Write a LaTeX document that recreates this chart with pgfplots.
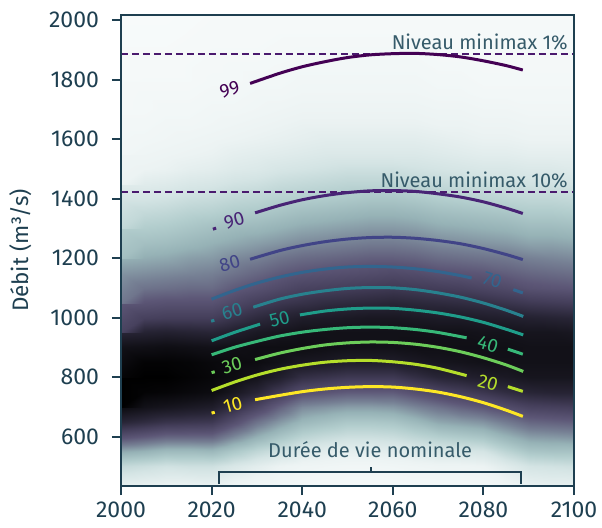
\documentclass[border=0pt]{standalone}
\usepackage{fontspec}
\setmainfont{Fira Sans}
\usepackage{pgfplots}
\usepackage{pgfplotstable}
\pgfplotsset{compat=1.18}

\definecolor{axiscol}{HTML}{1E3F50}
\definecolor{notecol}{HTML}{365B6A}
\definecolor{dashcol}{HTML}{4A1A6E}
\definecolor{c99}{HTML}{440154}
\definecolor{c90}{HTML}{482475}
\definecolor{c80}{HTML}{414487}
\definecolor{c70}{HTML}{32658E}
\definecolor{c60}{HTML}{28818E}
\definecolor{c50}{HTML}{1F9D8A}
\definecolor{c40}{HTML}{37B878}
\definecolor{c30}{HTML}{6CCD5A}
\definecolor{c20}{HTML}{B5DE2B}
\definecolor{c10}{HTML}{FDE725}

% flow density (0 = none, 1 = highest); one line per flow level 434 (axis bottom), 500, 550, ..., 1950, 2017 (axis top),
% 21 values per line for the years 2000, 2005, ..., 2100
\pgfplotstableread[row sep=\\]{
d \\
.12\\ .11\\ .10\\ .10\\ .11\\ .08\\ .06\\ .05\\ .04\\ .03\\ .03\\ .03\\ .03\\ .04\\ .04\\ .04\\ .05\\ .08\\ .11\\ .12\\ .12\\
.25\\ .23\\ .21\\ .22\\ .22\\ .18\\ .14\\ .10\\ .08\\ .07\\ .06\\ .06\\ .07\\ .08\\ .09\\ .09\\ .10\\ .15\\ .20\\ .21\\ .22\\
.42\\ .40\\ .37\\ .37\\ .38\\ .32\\ .26\\ .21\\ .16\\ .14\\ .13\\ .13\\ .14\\ .16\\ .18\\ .19\\ .20\\ .27\\ .33\\ .34\\ .34\\
.62\\ .59\\ .56\\ .56\\ .56\\ .48\\ .40\\ .33\\ .27\\ .24\\ .22\\ .22\\ .23\\ .26\\ .29\\ .31\\ .33\\ .39\\ .44\\ .45\\ .46\\
.80\\ .77\\ .74\\ .73\\ .72\\ .63\\ .53\\ .45\\ .38\\ .35\\ .32\\ .32\\ .33\\ .37\\ .42\\ .44\\ .46\\ .51\\ .56\\ .57\\ .58\\
.93\\ .90\\ .88\\ .86\\ .84\\ .76\\ .67\\ .57\\ .48\\ .46\\ .44\\ .44\\ .45\\ .49\\ .53\\ .57\\ .60\\ .64\\ .68\\ .69\\ .70\\
1.0\\ .98\\ .97\\ .95\\ .93\\ .87\\ .80\\ .71\\ .63\\ .61\\ .59\\ .59\\ .59\\ .63\\ .67\\ .70\\ .73\\ .77\\ .80\\ .81\\ .81\\
1.0\\ 1.0\\ 1.0\\ .98\\ .96\\ .93\\ .89\\ .83\\ .76\\ .74\\ .72\\ .72\\ .72\\ .76\\ .80\\ .82\\ .84\\ .86\\ .88\\ .88\\ .88\\
.97\\ .98\\ .98\\ .97\\ .95\\ .94\\ .93\\ .90\\ .87\\ .86\\ .84\\ .84\\ .84\\ .86\\ .88\\ .89\\ .90\\ .90\\ .90\\ .90\\ .90\\
.90\\ .91\\ .92\\ .91\\ .90\\ .91\\ .92\\ .92\\ .92\\ .91\\ .90\\ .90\\ .90\\ .91\\ .91\\ .91\\ .91\\ .91\\ .90\\ .90\\ .90\\
.80\\ .81\\ .82\\ .81\\ .80\\ .83\\ .86\\ .88\\ .90\\ .90\\ .90\\ .90\\ .90\\ .90\\ .90\\ .90\\ .89\\ .89\\ .88\\ .88\\ .87\\
.68\\ .69\\ .70\\ .70\\ .70\\ .74\\ .78\\ .81\\ .84\\ .85\\ .86\\ .87\\ .87\\ .86\\ .85\\ .85\\ .84\\ .83\\ .82\\ .81\\ .80\\
.60\\ .61\\ .62\\ .62\\ .62\\ .66\\ .70\\ .73\\ .75\\ .77\\ .78\\ .79\\ .80\\ .79\\ .78\\ .77\\ .76\\ .74\\ .72\\ .71\\ .70\\
.52\\ .53\\ .54\\ .55\\ .55\\ .59\\ .62\\ .65\\ .68\\ .69\\ .70\\ .71\\ .72\\ .71\\ .70\\ .69\\ .67\\ .65\\ .62\\ .61\\ .60\\
.46\\ .47\\ .48\\ .49\\ .50\\ .53\\ .56\\ .59\\ .61\\ .62\\ .63\\ .64\\ .65\\ .64\\ .62\\ .61\\ .60\\ .58\\ .56\\ .55\\ .54\\
.40\\ .41\\ .42\\ .44\\ .45\\ .48\\ .50\\ .53\\ .55\\ .56\\ .57\\ .58\\ .58\\ .57\\ .55\\ .54\\ .53\\ .52\\ .50\\ .49\\ .48\\
.35\\ .35\\ .36\\ .38\\ .40\\ .42\\ .44\\ .46\\ .48\\ .49\\ .50\\ .51\\ .51\\ .50\\ .48\\ .47\\ .46\\ .45\\ .43\\ .43\\ .42\\
.30\\ .30\\ .31\\ .33\\ .35\\ .37\\ .38\\ .40\\ .42\\ .43\\ .44\\ .45\\ .45\\ .44\\ .42\\ .41\\ .40\\ .39\\ .37\\ .37\\ .36\\
.25\\ .25\\ .26\\ .28\\ .29\\ .31\\ .32\\ .34\\ .36\\ .37\\ .38\\ .39\\ .39\\ .38\\ .36\\ .35\\ .34\\ .33\\ .31\\ .31\\ .30\\
.20\\ .20\\ .21\\ .23\\ .24\\ .26\\ .27\\ .29\\ .30\\ .31\\ .32\\ .33\\ .33\\ .32\\ .30\\ .29\\ .28\\ .27\\ .26\\ .26\\ .25\\
.15\\ .15\\ .16\\ .18\\ .19\\ .21\\ .22\\ .24\\ .25\\ .26\\ .27\\ .27\\ .27\\ .26\\ .25\\ .24\\ .23\\ .22\\ .21\\ .21\\ .20\\
.10\\ .10\\ .11\\ .13\\ .14\\ .16\\ .17\\ .19\\ .20\\ .21\\ .22\\ .22\\ .22\\ .21\\ .20\\ .19\\ .18\\ .18\\ .17\\ .17\\ .16\\
.08\\ .08\\ .09\\ .10\\ .11\\ .13\\ .14\\ .15\\ .16\\ .17\\ .17\\ .17\\ .17\\ .17\\ .16\\ .15\\ .14\\ .14\\ .13\\ .13\\ .13\\
.06\\ .06\\ .07\\ .08\\ .09\\ .10\\ .11\\ .12\\ .13\\ .14\\ .14\\ .14\\ .14\\ .14\\ .13\\ .12\\ .11\\ .11\\ .10\\ .10\\ .10\\
.05\\ .05\\ .06\\ .06\\ .07\\ .08\\ .09\\ .10\\ .11\\ .11\\ .11\\ .11\\ .11\\ .11\\ .10\\ .10\\ .09\\ .09\\ .08\\ .08\\ .08\\
.04\\ .04\\ .05\\ .05\\ .06\\ .06\\ .07\\ .08\\ .09\\ .09\\ .09\\ .09\\ .09\\ .09\\ .08\\ .08\\ .07\\ .07\\ .06\\ .06\\ .06\\
.035\\ .04\\ .04\\ .04\\ .05\\ .05\\ .06\\ .06\\ .07\\ .07\\ .07\\ .07\\ .07\\ .07\\ .06\\ .06\\ .05\\ .05\\ .05\\ .05\\ .05\\
.03\\ .03\\ .03\\ .03\\ .04\\ .04\\ .05\\ .05\\ .06\\ .06\\ .06\\ .06\\ .06\\ .06\\ .05\\ .05\\ .04\\ .04\\ .04\\ .04\\ .04\\
.025\\ .025\\ .025\\ .03\\ .035\\ .04\\ .04\\ .045\\ .05\\ .05\\ .05\\ .05\\ .05\\ .05\\ .04\\ .04\\ .035\\ .035\\ .035\\ .035\\ .035\\
.02\\ .02\\ .02\\ .025\\ .03\\ .03\\ .03\\ .035\\ .04\\ .04\\ .04\\ .04\\ .04\\ .04\\ .03\\ .03\\ .03\\ .03\\ .03\\ .03\\ .03\\
.015\\ .015\\ .015\\ .02\\ .025\\ .025\\ .025\\ .03\\ .03\\ .03\\ .03\\ .03\\ .03\\ .03\\ .025\\ .025\\ .025\\ .025\\ .025\\ .025\\ .025\\
.01\\ .01\\ .01\\ .015\\ .02\\ .02\\ .02\\ .02\\ .02\\ .02\\ .02\\ .02\\ .02\\ .02\\ .02\\ .02\\ .02\\ .02\\ .02\\ .02\\ .02\\
}\dens

\pgfplotsset{
  cont/.style={line width=1.5pt, smooth, no marks},
  dot/.style={line width=1.5pt, no marks},
}
\tikzset{clab/.style={font=\fontsize{9.5}{11}\selectfont, inner sep=0pt}}

\begin{document}
\begin{tikzpicture}
\begin{axis}[
  at={(60.5pt,20.5pt)}, anchor=south west,
  scale only axis, width=226.5pt, height=235.5pt,
  xmin=2000, xmax=2100, ymin=434, ymax=2017,
  xtick={2000,2020,...,2100}, ytick={600,800,...,2000},
  axis on top,
  axis line style={axiscol, line width=1pt},
  tick style={axiscol, line width=1pt},
  tick align=outside, major tick length=4.5pt,
  xtick pos=left, ytick pos=left,
  tick label style={font=\fontsize{11.5}{13}\selectfont, text=axiscol},
  yticklabel style={xshift=-3pt},
  /pgf/number format/1000 sep={},
  /pgf/number format/assume math mode=true,
  ylabel={Débit (m³/s)},
  ylabel style={font=\fontsize{11.2}{13}\selectfont, text=axiscol, yshift=2pt},
  colormap={dens}{rgb255(0cm)=(248,251,251) rgb255(1cm)=(236,243,243)
    rgb255(2cm)=(212,228,228) rgb255(3cm)=(178,205,205) rgb255(4cm)=(150,178,182)
    rgb255(5cm)=(118,128,148) rgb255(6cm)=(92,86,118) rgb255(7cm)=(68,62,90)
    rgb255(8cm)=(40,37,54) rgb255(9cm)=(18,17,24) rgb255(10cm)=(0,0,0)},
  point meta min=0, point meta max=1,
]
\addplot[surf, shader=interp, mesh/cols=21, mesh/ordering=x varies, point meta=explicit]
  table[x index=0, y index=0, meta index=0,
        x expr={2000+5*mod(\coordindex,21)},
        y expr={ifthenelse(\coordindex<21, 434, ifthenelse(\coordindex>650, 2017, 450+50*floor(\coordindex/21)))}] {\dens};

% minimax levels
\addplot[dashcol, line width=1pt, dash pattern=on 3.5pt off 2pt] coordinates {(2000,1887) (2100,1887)};
\addplot[dashcol, line width=1pt, dash pattern=on 3.5pt off 2pt] coordinates {(2000,1423) (2100,1423)};
\node[anchor=base east, text=notecol, font=\fontsize{10}{12}\selectfont, inner sep=0pt] at (axis cs:2098.7,1900) {Niveau minimax 1\%};
\node[anchor=base east, text=notecol, font=\fontsize{10}{12}\selectfont, inner sep=0pt] at (axis cs:2098.7,1436) {Niveau minimax 10\%};

% 99
\addplot[cont, c99] coordinates {(2028.5,1787) (2035,1821) (2040,1843) (2045,1860) (2050,1874) (2055,1883) (2060,1887) (2065,1888) (2070,1884) (2075,1876) (2080,1863) (2085,1847) (2088.7,1832)};
\node[clab, text=c99, rotate=18] at (axis cs:2024,1766) {99};
% 90
\addplot[dot, c90] coordinates {(2020.3,1297) (2021,1301)};
\addplot[cont, c90] coordinates {(2029.6,1352) (2035,1377) (2040,1396) (2045,1410) (2050,1420) (2055,1426) (2060,1427) (2065,1424) (2070,1416) (2075,1405) (2080,1389) (2085,1368) (2088.7,1350)};
\node[clab, text=c90, rotate=16] at (axis cs:2025,1327) {90};
% 80
\addplot[cont, c80] coordinates {(2028.5,1196) (2035,1225) (2040,1242) (2045,1255) (2050,1264) (2055,1269) (2060,1270) (2065,1266.5) (2070,1259) (2075,1248) (2080,1232) (2085,1212) (2088.7,1195)};
\node[clab, text=c80, rotate=16] at (axis cs:2024,1183) {80};
% 70
\addplot[cont, c70] coordinates {(2020,1062) (2025,1091) (2030,1116) (2035,1136) (2040,1152) (2045,1163) (2050,1170) (2055,1172) (2060,1170) (2065,1164) (2070,1154.5) (2075,1141) (2077.4,1133)};
\addplot[dot, c70] coordinates {(2086.6,1094) (2088.7,1083)};
\node[clab, text=c70, rotate=-18] at (axis cs:2082,1126) {70};
% 60
\addplot[dot, c60] coordinates {(2019.9,988) (2020.6,991)};
\addplot[cont, c60] coordinates {(2029.2,1035) (2035,1062) (2040,1078.5) (2045,1090) (2050,1098) (2055,1101) (2060,1100) (2065,1094) (2070,1083) (2075,1068.5) (2080,1049) (2085,1025) (2088.8,1004)};
\node[clab, text=c60, rotate=16] at (axis cs:2024.5,1020) {60};
% 50
\addplot[cont, c50] coordinates {(2020,922) (2025,950) (2030.7,978)};
\addplot[cont, c50] coordinates {(2039.5,1009) (2045,1022) (2050,1029) (2055,1032) (2060,1031) (2065,1025) (2070,1015.5) (2075,1002) (2080,984) (2085,961) (2088.8,942)};
\node[clab, text=c50, rotate=14] at (axis cs:2035,994) {50};
% 40
\addplot[cont, c40] coordinates {(2020,875) (2025,900) (2030,920) (2035,938) (2040,951) (2045,960) (2050,966) (2055,968) (2060,966) (2065,960) (2070,950) (2076.3,932)};
\addplot[dot, c40] coordinates {(2085.4,894) (2088.7,877)};
\node[clab, text=c40, rotate=-16] at (axis cs:2081,909) {40};
% 30
\addplot[dot, c30] coordinates {(2020,815) (2020.7,818)};
\addplot[cont, c30] coordinates {(2029.6,859) (2035,880.5) (2040,896) (2045,908) (2050,915) (2055,918) (2060,916.5) (2065,910.5) (2070,900) (2075,885) (2080,865) (2085,841) (2088.8,819)};
\node[clab, text=c30, rotate=16] at (axis cs:2024.5,840) {30};
% 20
\addplot[cont, c20] coordinates {(2020,755) (2025,783) (2030,807) (2035,826) (2040,840) (2045,850) (2050,855) (2055,856) (2060,851.5) (2065,843) (2070,829.5) (2076.3,805)};
\addplot[dot, c20] coordinates {(2085.4,768) (2088.7,752)};
\node[clab, text=c20, rotate=-16] at (axis cs:2081,781) {20};
% 10
\addplot[dot, c10] coordinates {(2020,679) (2020.7,682)};
\addplot[cont, c10] coordinates {(2029.6,724) (2035,738.5) (2040,751) (2045,760) (2050,765.6) (2055,768) (2060,766.5) (2065,760) (2070,749.6) (2075,734) (2080,714) (2085,689) (2088.7,668)};
\node[clab, text=c10, rotate=15] at (axis cs:2024.7,706) {10};

% nominal lifetime bracket
\draw[axiscol, line width=1pt] (axis cs:2021.6,442) -- (axis cs:2021.6,480) -- (axis cs:2088.3,480) -- (axis cs:2088.3,442);
\draw[axiscol, line width=1pt] (axis cs:2055.2,480) -- (axis cs:2055.2,497);
\node[anchor=base, text=notecol, font=\fontsize{10}{12}\selectfont, inner sep=0pt] at (axis cs:2055,530) {Durée de vie nominale};
\end{axis}
\pgfresetboundingbox
\path[use as bounding box] (0,0) rectangle (301pt,263.5pt);
\end{tikzpicture}
\end{document}
